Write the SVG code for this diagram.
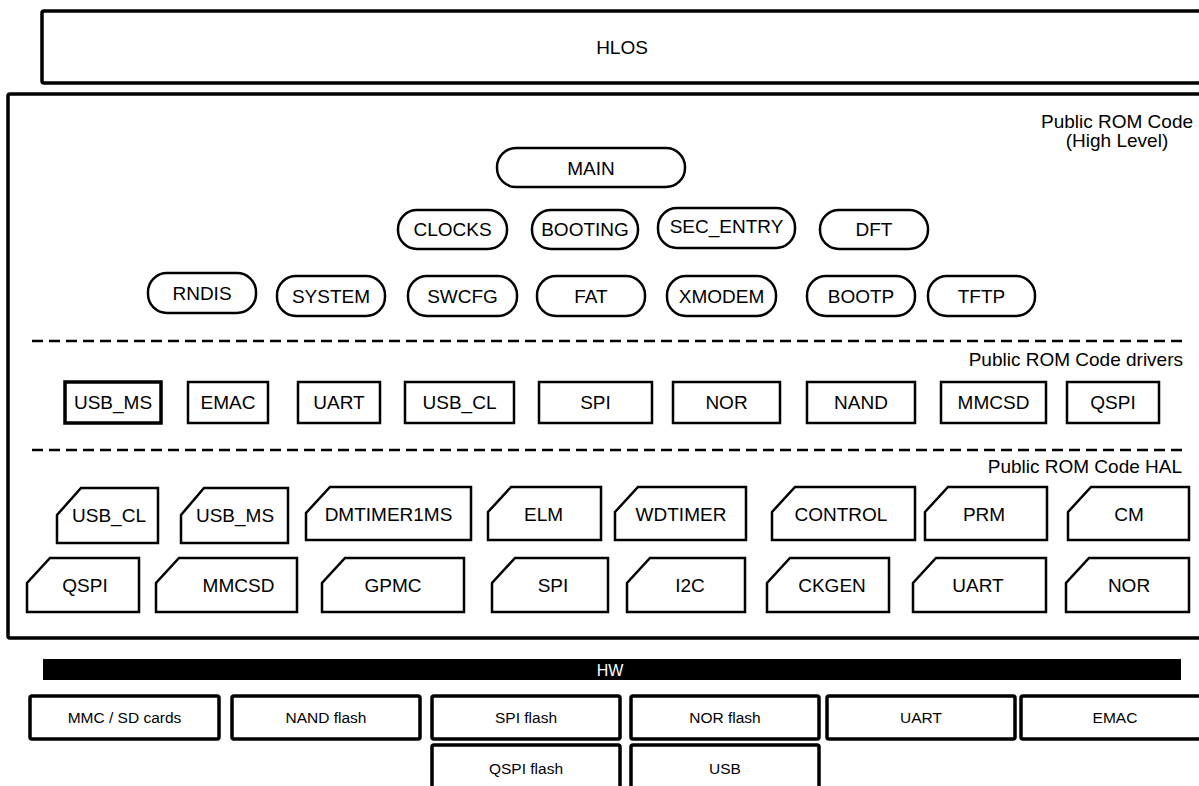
<svg xmlns="http://www.w3.org/2000/svg" width="1199" height="786" viewBox="0 0 1199 786">
<style>
text{font-family:"Liberation Sans",Arial,sans-serif;font-size:19px;fill:#000;text-anchor:middle}
.pill{fill:#fff;stroke:#000;stroke-width:2.5}
.drv{fill:#fff;stroke:#000;stroke-width:2.5}
.hal{fill:#fff;stroke:#000;stroke-width:2.5;stroke-linejoin:miter}
.frame{fill:none;stroke:#000;stroke-width:3.5}
.dash{stroke:#000;stroke-width:2.5;stroke-dasharray:11 6;fill:none}
.hw{fill:#fff;stroke:#000;stroke-width:3.5}
.hwt{font-size:15.5px}
.lbl{text-anchor:end}
</style>
<rect width="1199" height="786" fill="#fff"/>
<g id="hlos"><rect class="frame" x="42" y="11" width="1200" height="72" rx="2"/><text x="622" y="54">HLOS</text></g>
<g id="rom"><rect class="frame" x="8" y="94" width="1200" height="544" rx="2"/>
<text x="1117" y="128">Public ROM Code</text><text x="1117" y="147">(High Level)</text></g>
<g id="main"><rect class="pill" x="497" y="148" width="188" height="39" rx="19"/><text x="591" y="175">MAIN</text></g>
<g id="clocks"><rect class="pill" x="398" y="210" width="109" height="39" rx="19"/><text x="452.5" y="236">CLOCKS</text></g>
<g id="booting"><rect class="pill" x="532" y="210" width="106" height="39" rx="19"/><text x="585" y="236">BOOTING</text></g>
<g id="sec_entry"><rect class="pill" x="658" y="208" width="137" height="40" rx="19"/><text x="726.5" y="233">SEC_ENTRY</text></g>
<g id="dft"><rect class="pill" x="820" y="210" width="108" height="39" rx="19"/><text x="874" y="236">DFT</text></g>
<g id="rndis"><rect class="pill" x="148" y="273" width="108" height="40" rx="19"/><text x="202" y="300">RNDIS</text></g>
<g id="system"><rect class="pill" x="277" y="276" width="108" height="40" rx="19"/><text x="331" y="303">SYSTEM</text></g>
<g id="swcfg"><rect class="pill" x="408" y="276" width="109" height="40" rx="19"/><text x="462.5" y="303">SWCFG</text></g>
<g id="fat"><rect class="pill" x="537" y="276" width="108" height="40" rx="19"/><text x="591" y="303">FAT</text></g>
<g id="xmodem"><rect class="pill" x="667" y="276" width="109" height="40" rx="19"/><text x="721.5" y="303">XMODEM</text></g>
<g id="bootp"><rect class="pill" x="807" y="276" width="108" height="40" rx="19"/><text x="861" y="303">BOOTP</text></g>
<g id="tftp"><rect class="pill" x="928" y="276" width="107" height="40" rx="19"/><text x="981.5" y="303">TFTP</text></g>
<g id="sep1"><line class="dash" x1="32" y1="341" x2="1183" y2="341"/><text class="lbl" x="1183" y="366">Public ROM Code drivers</text></g>
<g id="drv_usb_ms"><rect class="drv" x="65" y="382" width="96" height="41" style="stroke-width:3.5"/><text x="113" y="409">USB_MS</text></g>
<g id="drv_emac"><rect class="drv" x="188" y="382" width="80" height="41"/><text x="228" y="409">EMAC</text></g>
<g id="drv_uart"><rect class="drv" x="298" y="382" width="82" height="41"/><text x="339" y="409">UART</text></g>
<g id="drv_usb_cl"><rect class="drv" x="405" y="382" width="109" height="41"/><text x="459.5" y="409">USB_CL</text></g>
<g id="drv_spi"><rect class="drv" x="539" y="382" width="113" height="41"/><text x="595.5" y="409">SPI</text></g>
<g id="drv_nor"><rect class="drv" x="673" y="382" width="107" height="41"/><text x="726.5" y="409">NOR</text></g>
<g id="drv_nand"><rect class="drv" x="807" y="382" width="108" height="41"/><text x="861" y="409">NAND</text></g>
<g id="drv_mmcsd"><rect class="drv" x="941" y="382" width="105" height="41"/><text x="993.5" y="409">MMCSD</text></g>
<g id="drv_qspi"><rect class="drv" x="1067" y="382" width="92" height="41"/><text x="1113" y="409">QSPI</text></g>
<g id="sep2"><line class="dash" x1="32" y1="450" x2="1183" y2="450"/><text class="lbl" x="1182" y="473">Public ROM Code HAL</text></g>
<g id="hal_usb_cl"><path class="hal" d="M81 488H158V543H57V515Z"/><text x="109" y="522">USB_CL</text></g>
<g id="hal_usb_ms"><path class="hal" d="M204 488H288V543H181V515Z"/><text x="235" y="522">USB_MS</text></g>
<g id="hal_dmtimer1ms"><path class="hal" d="M330 487H471V540H306V513Z"/><text x="388.5" y="521">DMTIMER1MS</text></g>
<g id="hal_elm"><path class="hal" d="M511 487H601V540H488V512Z"/><text x="543.5" y="521">ELM</text></g>
<g id="hal_wdtimer"><path class="hal" d="M638 487H746V540H615V512Z"/><text x="681" y="521">WDTIMER</text></g>
<g id="hal_control"><path class="hal" d="M795 487H915V540H772V512Z"/><text x="841" y="521">CONTROL</text></g>
<g id="hal_prm"><path class="hal" d="M948 487H1047V540H925V512Z"/><text x="984" y="521">PRM</text></g>
<g id="hal_cm"><path class="hal" d="M1091 487H1189V540H1068V512Z"/><text x="1129" y="521">CM</text></g>
<g id="hal_qspi"><path class="hal" d="M50 558H139V612H27V583Z"/><text x="85" y="592">QSPI</text></g>
<g id="hal_mmcsd"><path class="hal" d="M179 558H297V612H156V583Z"/><text x="238.5" y="592">MMCSD</text></g>
<g id="hal_gpmc"><path class="hal" d="M345 558H464V612H322V583Z"/><text x="393" y="592">GPMC</text></g>
<g id="hal_spi"><path class="hal" d="M515 558H608V612H492V583Z"/><text x="553" y="592">SPI</text></g>
<g id="hal_i2c"><path class="hal" d="M650 558H745V612H627V583Z"/><text x="690" y="592">I2C</text></g>
<g id="hal_ckgen"><path class="hal" d="M790 558H889V612H767V583Z"/><text x="832" y="592">CKGEN</text></g>
<g id="hal_uart"><path class="hal" d="M936 558H1046V612H913V583Z"/><text x="978" y="592">UART</text></g>
<g id="hal_nor"><path class="hal" d="M1089 558H1189V612H1066V583Z"/><text x="1129" y="592">NOR</text></g>
<g id="hw"><rect x="43" y="659" width="1138" height="21" fill="#000"/><text x="610" y="675.5" style="fill:#fff;font-size:16px">HW</text></g>
<g id="hw_mmc"><rect class="hw" x="30" y="696" width="189" height="43" rx="2"/><text class="hwt" x="124.5" y="723">MMC / SD cards</text></g>
<g id="hw_nand"><rect class="hw" x="232" y="696" width="188" height="43" rx="2"/><text class="hwt" x="326" y="723">NAND flash</text></g>
<g id="hw_spi"><rect class="hw" x="432" y="696" width="188" height="43" rx="2"/><text class="hwt" x="526" y="723">SPI flash</text></g>
<g id="hw_nor"><rect class="hw" x="631" y="696" width="188" height="43" rx="2"/><text class="hwt" x="725" y="723">NOR flash</text></g>
<g id="hw_uart"><rect class="hw" x="827" y="696" width="188" height="43" rx="2"/><text class="hwt" x="921" y="723">UART</text></g>
<g id="hw_emac"><rect class="hw" x="1021" y="696" width="188" height="43" rx="2"/><text class="hwt" x="1115" y="723">EMAC</text></g>
<g id="hw_qspi"><rect class="hw" x="432" y="745" width="188" height="50" rx="2"/><text class="hwt" x="526" y="774">QSPI flash</text></g>
<g id="hw_usb"><rect class="hw" x="631" y="745" width="188" height="50" rx="2"/><text class="hwt" x="725" y="774">USB</text></g>
</svg>
